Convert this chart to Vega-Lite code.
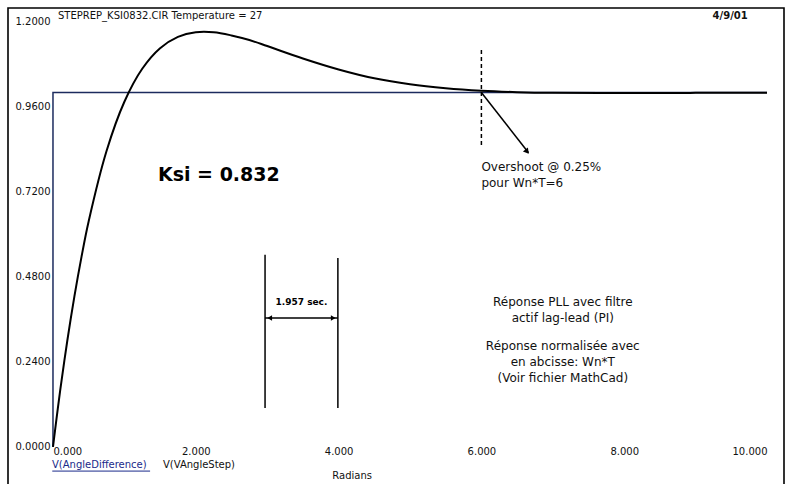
{
  "$schema": "https://vega.github.io/schema/vega-lite/v6.json",
  "width": 776,
  "height": 484,
  "autosize": {"type": "none"},
  "padding": {"left": 8, "top": 8, "right": 6, "bottom": 0},
  "background": "white",
  "config": {
    "view": {"stroke": "#000", "strokeWidth": 1.6},
    "font": "DejaVu Sans",
    "axis": {"grid": false, "domain": false, "ticks": false, "title": null, "labelFont": "DejaVu Sans", "labelColor": "#111", "labelFontSize": 10}
  },
  "datasets": {
    "step": [
      {"x": 0, "y": 0}, {"x": 0, "y": 1}, {"x": 10, "y": 1}
    ],
    "curve": [
      {"x": 0, "y": 0}, {"x": 0.05, "y": 0.081}, {"x": 0.1, "y": 0.158}, {"x": 0.2, "y": 0.299},
      {"x": 0.3, "y": 0.425}, {"x": 0.4, "y": 0.537}, {"x": 0.5, "y": 0.637}, {"x": 0.75, "y": 0.835},
      {"x": 1.0, "y": 0.974}, {"x": 1.25, "y": 1.067}, {"x": 1.5, "y": 1.125}, {"x": 1.75, "y": 1.157},
      {"x": 2.0, "y": 1.170}, {"x": 2.25, "y": 1.170}, {"x": 2.5, "y": 1.161}, {"x": 2.75, "y": 1.148},
      {"x": 3.0, "y": 1.131}, {"x": 3.5, "y": 1.096}, {"x": 4.0, "y": 1.065}, {"x": 4.5, "y": 1.040},
      {"x": 5.0, "y": 1.023}, {"x": 5.5, "y": 1.012}, {"x": 6.0, "y": 1.005}, {"x": 6.5, "y": 1.001},
      {"x": 7.0, "y": 0.999}, {"x": 8.0, "y": 0.9985}, {"x": 9.0, "y": 0.999}, {"x": 10.0, "y": 0.9995}
    ],
    "bars": [
      {"x": 2.97, "y": 0.542, "x2": 2.97, "y2": 0.110},
      {"x": 3.99, "y": 0.533, "x2": 3.99, "y2": 0.110},
      {"x": 2.97, "y": 0.364, "x2": 3.99, "y2": 0.364},
      {"x": 6.0, "y": 1.0, "x2": 6.66, "y2": 0.83}
    ],
    "dashed": [
      {"x": 6.0, "y": 1.12, "x2": 6.0, "y2": 0.852}
    ],
    "underline": [
      {"x": -0.01, "y": -0.068, "x2": 1.36, "y2": -0.068}
    ],
    "heads": [
      {"x": 3.035, "y": 0.364, "dir": "left"},
      {"x": 3.925, "y": 0.364, "dir": "right"}
    ],
    "ohead": [
      {"x": 6.64, "y": 0.833}
    ],
    "notes": [
      {"x": 7.14, "y": 0.409, "t": "Réponse PLL avec filtre"},
      {"x": 7.14, "y": 0.364, "t": "actif lag-lead (PI)"},
      {"x": 7.14, "y": 0.285, "t": "Réponse normalisée avec"},
      {"x": 7.14, "y": 0.240, "t": "en abcisse: Wn*T"},
      {"x": 7.14, "y": 0.195, "t": "(Voir fichier MathCad)"}
    ],
    "overshoot": [
      {"x": 6.0, "y": 0.790, "t": "Overshoot @ 0.25%"},
      {"x": 6.0, "y": 0.745, "t": "pour Wn*T=6"}
    ],
    "leftText": [
      {"x": 0.07, "y": 1.216, "t": "STEPREP_KSI0832.CIR Temperature = 27"},
      {"x": 1.54, "y": -0.051, "t": "V(VAngleStep)"}
    ]
  },
  "layer": [
    {
      "data": {"name": "step"},
      "mark": {"type": "line", "color": "#1c2b5e", "strokeWidth": 1.5},
      "encoding": {
        "x": {"field": "x", "type": "quantitative", "scale": {"domain": [-0.63, 10.238], "nice": false, "zero": false},
          "axis": {"orient": "bottom", "offset": -46, "labelPadding": 0, "values": [0, 2, 4, 6, 8, 10], "format": ".3f", "labelBaseline": "top",
            "labelAlign": {"expr": "datum.value == 0 ? 'left' : (datum.value == 10 ? 'right' : 'center')"}}},
        "y": {"field": "y", "type": "quantitative", "scale": {"domain": [-0.127, 1.2384], "nice": false, "zero": false},
          "axis": {"orient": "left", "offset": -42, "labelPadding": 0, "values": [0, 0.24, 0.48, 0.72, 0.96, 1.2], "format": ".4f", "labelBaseline": "middle"}},
        "order": {"value": 0}
      }
    },
    {
      "data": {"name": "curve"},
      "mark": {"type": "line", "color": "#000", "strokeWidth": 2, "interpolate": "catmull-rom"},
      "encoding": {
        "x": {"field": "x", "type": "quantitative"},
        "y": {"field": "y", "type": "quantitative"}
      }
    },
    {
      "data": {"name": "bars"},
      "mark": {"type": "rule", "color": "#000", "strokeWidth": 1.5},
      "encoding": {
        "x": {"field": "x", "type": "quantitative"},
        "y": {"field": "y", "type": "quantitative"},
        "x2": {"field": "x2"},
        "y2": {"field": "y2"}
      }
    },
    {
      "data": {"name": "dashed"},
      "mark": {"type": "rule", "color": "#000", "strokeWidth": 1.5, "strokeDash": [4, 3]},
      "encoding": {
        "x": {"field": "x", "type": "quantitative"},
        "y": {"field": "y", "type": "quantitative"},
        "x2": {"field": "x2"},
        "y2": {"field": "y2"}
      }
    },
    {
      "data": {"name": "underline"},
      "mark": {"type": "rule", "color": "#1a2a8a", "strokeWidth": 1},
      "encoding": {
        "x": {"field": "x", "type": "quantitative"},
        "y": {"field": "y", "type": "quantitative"},
        "x2": {"field": "x2"},
        "y2": {"field": "y2"}
      }
    },
    {
      "data": {"name": "heads"},
      "mark": {"type": "point", "filled": true, "color": "#000", "size": 30, "opacity": 1},
      "encoding": {
        "x": {"field": "x", "type": "quantitative"},
        "y": {"field": "y", "type": "quantitative"},
        "shape": {"field": "dir", "type": "nominal", "scale": {"domain": ["left", "right"], "range": ["triangle-left", "triangle-right"]}, "legend": null}
      }
    },
    {
      "data": {"name": "ohead"},
      "mark": {"type": "point", "filled": true, "color": "#000", "size": 40, "opacity": 1, "shape": "triangle-down", "angle": 322},
      "encoding": {
        "x": {"field": "x", "type": "quantitative"},
        "y": {"field": "y", "type": "quantitative"}
      }
    },
    {
      "data": {"name": "notes"},
      "mark": {"type": "text", "align": "center", "baseline": "middle", "fontSize": 12, "color": "#111"},
      "encoding": {
        "x": {"field": "x", "type": "quantitative"},
        "y": {"field": "y", "type": "quantitative"},
        "text": {"field": "t"}
      }
    },
    {
      "data": {"name": "overshoot"},
      "mark": {"type": "text", "align": "left", "baseline": "middle", "fontSize": 12, "color": "#111"},
      "encoding": {
        "x": {"field": "x", "type": "quantitative"},
        "y": {"field": "y", "type": "quantitative"},
        "text": {"field": "t"}
      }
    },
    {
      "data": {"name": "leftText"},
      "mark": {"type": "text", "align": "left", "baseline": "middle", "fontSize": 10, "color": "#111"},
      "encoding": {
        "x": {"field": "x", "type": "quantitative"},
        "y": {"field": "y", "type": "quantitative"},
        "text": {"field": "t"}
      }
    },
    {
      "data": {"values": [{"x": -0.014, "y": -0.051, "t": "V(AngleDifference)"}]},
      "mark": {"type": "text", "align": "left", "baseline": "middle", "fontSize": 10, "color": "#1a2a8a"},
      "encoding": {
        "x": {"field": "x", "type": "quantitative"},
        "y": {"field": "y", "type": "quantitative"},
        "text": {"field": "t"}
      }
    },
    {
      "data": {"values": [{"x": 4.19, "y": -0.082, "t": "Radians"}]},
      "mark": {"type": "text", "align": "center", "baseline": "middle", "fontSize": 10, "color": "#111"},
      "encoding": {
        "x": {"field": "x", "type": "quantitative"},
        "y": {"field": "y", "type": "quantitative"},
        "text": {"field": "t"}
      }
    },
    {
      "data": {"values": [{"x": 9.73, "y": 1.216, "t": "4/9/01"}]},
      "mark": {"type": "text", "align": "right", "baseline": "middle", "fontSize": 10, "fontWeight": "bold", "color": "#111"},
      "encoding": {
        "x": {"field": "x", "type": "quantitative"},
        "y": {"field": "y", "type": "quantitative"},
        "text": {"field": "t"}
      }
    },
    {
      "data": {"values": [{"x": 1.47, "y": 0.767, "t": "Ksi = 0.832"}]},
      "mark": {"type": "text", "align": "left", "baseline": "middle", "fontSize": 19, "fontWeight": "bold", "color": "#000"},
      "encoding": {
        "x": {"field": "x", "type": "quantitative"},
        "y": {"field": "y", "type": "quantitative"},
        "text": {"field": "t"}
      }
    },
    {
      "data": {"values": [{"x": 3.48, "y": 0.409, "t": "1.957 sec."}]},
      "mark": {"type": "text", "align": "center", "baseline": "middle", "fontSize": 9, "fontWeight": "bold", "color": "#000"},
      "encoding": {
        "x": {"field": "x", "type": "quantitative"},
        "y": {"field": "y", "type": "quantitative"},
        "text": {"field": "t"}
      }
    }
  ]
}
